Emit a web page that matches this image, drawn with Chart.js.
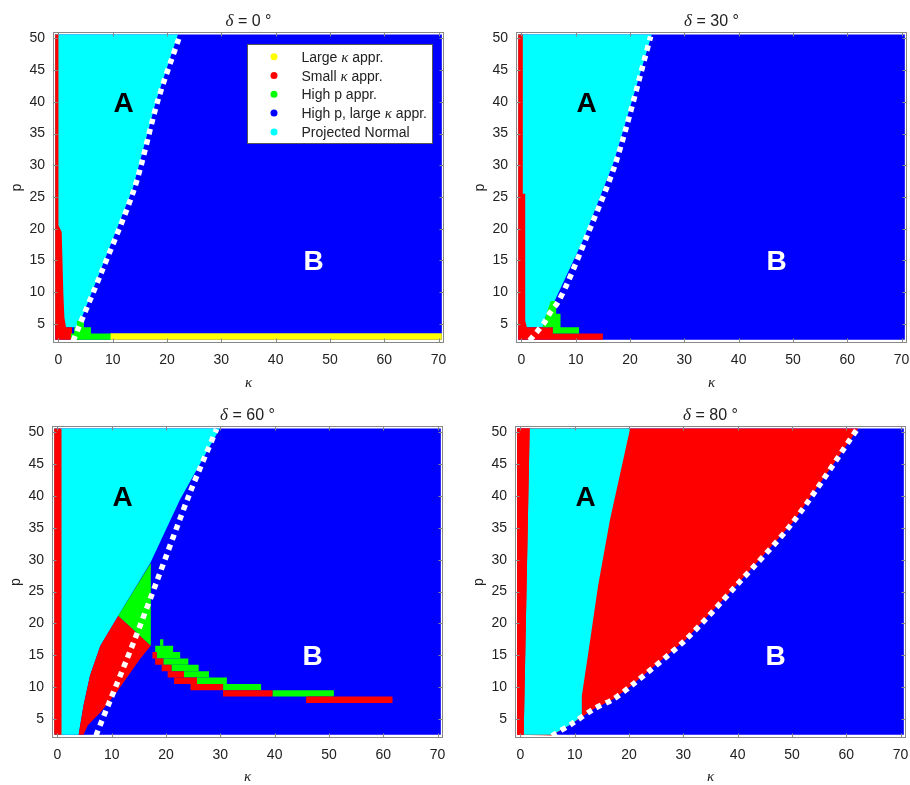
<!DOCTYPE html>
<html>
<head>
<meta charset="utf-8">
<script src="https://cdn.jsdelivr.net/npm/chart.js@4.4.1/dist/chart.umd.min.js"></script>
<style>
  html, body { margin: 0; padding: 0; background: #fff; }
  #wrap { position: relative; width: 910px; height: 785px; overflow: hidden; }
  .panel { position: absolute; }
</style>
</head>
<body>
<div id="wrap">
  <canvas class="panel" id="c0" width="447" height="392" style="left:0;top:0"></canvas>
  <canvas class="panel" id="c1" width="447" height="392" style="left:463px;top:0"></canvas>
  <canvas class="panel" id="c2" width="447" height="392" style="left:-1px;top:394px"></canvas>
  <canvas class="panel" id="c3" width="447" height="392" style="left:462px;top:394px"></canvas>
</div>
<script>
// axes
const kTicks = [0, 10, 20, 30, 40, 50, 60, 70];
const pTicks = [5, 10, 15, 20, 25, 30, 35, 40, 45, 50];
const kRange = [-1, 71];
const pRange = [2, 51];
const deltaTitles = ['δ = 0 °', 'δ = 30 °', 'δ = 60 °', 'δ = 80 °'];

// approximation families
const seriesNames = ['Large κ appr.', 'Small κ appr.', 'High p appr.', 'High p, large κ appr.', 'Projected Normal'];
const seriesColors = ['#ffff00', '#ff0000', '#00ff00', '#0000ff', '#00ffff'];
const YELLOW = 0, RED = 1, GREEN = 2, BLUE = 3, CYAN = 4;

// region letters
const regionTags = ['A', 'B'];
const tagK = [12, 47];
const tagP = [40, 15];

// extent of the (kappa, p) grid
const gridHull = [[-0.6, 2.5], [-0.6, 50.6], [70.6, 50.6], [70.6, 2.5]];

// delta = 0
const cyan0 = [[-0.6, 5.0], [-0.6, 50.6], [22.0, 50.6], [18.0, 40.2], [13.7, 26.4], [7.6, 13.1], [4.3, 6.0], [3.3, 4.5], [1.3, 4.5]];
const red0 = [[-0.6, 2.5], [-0.6, 50.6], [0.0, 50.6], [0.0, 20.5], [0.6, 19.5], [0.9, 10.0], [1.1, 6.0], [1.4, 4.5], [2.5, 4.5], [2.5, 2.5]];
const green0 = [[2.3, 2.5], [2.3, 3.5], [2.9, 3.5], [2.9, 4.5], [3.4, 4.5], [3.4, 5.5], [4.7, 5.5], [4.7, 4.5], [6.0, 4.5], [6.0, 3.5], [9.8, 3.5], [9.8, 2.5]];
const yellow0 = [[9.6, 2.5], [9.6, 3.55], [70.6, 3.55], [70.6, 2.5]];
const bound0 = [[2.7, 2.3], [3.6, 4.2], [7.9, 13.1], [14.0, 26.4], [18.3, 40.2], [22.3, 50.3]];

// delta = 30
const cyan30 = [[-0.6, 4.5], [-0.6, 50.6], [24.0, 50.6], [17.0, 30.5], [11.5, 18.5], [7.4, 11.0], [6.1, 8.6], [4.6, 6.6], [3.9, 4.5]];
const red30 = [[-0.6, 2.5], [-0.6, 50.6], [0.25, 50.6], [0.25, 25.5], [0.7, 25.5], [0.7, 5.5], [1.0, 4.5], [5.8, 4.5], [5.8, 3.5], [15.0, 3.5], [15.0, 2.5]];
const green30 = [[5.4, 8.6], [6.4, 8.6], [6.4, 6.6], [7.2, 6.6], [7.2, 4.5], [10.6, 4.5], [10.6, 3.5], [5.8, 3.5], [5.8, 4.5], [3.9, 4.5], [4.6, 6.6]];
const bound30 = [[1.5, 2.4], [2.9, 3.8], [4.2, 5.2], [5.3, 6.8], [6.7, 8.4], [8.5, 11.5], [11.9, 18.5], [17.4, 30.5], [23.8, 50.3]];

// delta = 60
const cyan60 = [[-0.6, 2.5], [-0.6, 50.6], [29.9, 50.6], [22.6, 39.5], [17.1, 29.5], [11.2, 21.2], [7.9, 16.5], [6.0, 11.8], [4.8, 7.1], [3.9, 2.5]];
const redStrip60 = [[-0.6, 2.5], [-0.6, 50.6], [0.75, 50.6], [0.75, 2.5]];
const redWedge60 = [[3.9, 2.5], [4.8, 7.1], [6.0, 11.8], [7.9, 16.5], [11.2, 21.2], [17.2, 16.5], [15.2, 14.4], [10.9, 9.2], [7.9, 6.0], [5.6, 4.0], [4.8, 2.5]];
const greenWedge60 = [[11.2, 21.2], [17.2, 29.5], [17.2, 16.5]];
const bound60 = [[7.1, 2.4], [9.7, 7.9], [12.8, 14.4], [15.2, 19.6], [18.3, 26.6], [24.4, 40.5], [29.3, 50.5]];
// staircase rows to the right of the wedge
const stairP60 = [17, 16, 15, 14, 13, 12, 11, 10, 9, 8];
const stairGreenFrom60 = [18.9, 18.0, 18.3, 19.5, 21.0, 23.3, 25.7, 30.5, 39.6, null];
const stairGreenTo60 = [19.5, 21.3, 22.6, 24.1, 26.0, 27.9, 31.2, 37.5, 50.9, null];
const stairRedFrom60 = [null, null, 17.5, 18.0, 19.2, 20.3, 21.5, 24.5, 30.5, 45.8];
const stairRedTo60 = [null, null, 18.3, 19.5, 21.0, 23.3, 25.7, 30.5, 39.6, 61.7];

// delta = 80
const redBody80 = [[-0.6, 2.5], [-0.6, 50.6], [62.2, 50.6], [50.1, 35.8], [39.7, 25.9], [30.5, 17.5], [20.4, 10.2], [17.1, 8.1], [13.4, 6.5], [9.4, 4.2], [5.8, 2.4]];
const cyan80 = [[0.6, 2.5], [1.7, 50.6], [20.2, 50.6], [16.5, 36.3], [14.3, 25.9], [12.5, 15.4], [11.3, 8.6], [11.3, 5.4], [9.4, 4.2], [5.9, 2.5]];
const redStrip80 = [[-0.6, 2.5], [-0.6, 50.6], [1.7, 50.6], [0.6, 2.5]];
const bound80 = [[5.8, 2.35], [9.4, 4.2], [13.4, 6.5], [17.1, 8.1], [20.4, 10.2], [30.5, 17.5], [39.7, 25.9], [50.1, 35.8], [62.0, 50.5]];

function rowRect(p, a, b) {
    return [[a, p - 0.5], [a, p + 0.5], [b, p + 0.5], [b, p - 0.5]];
}

const stairs60 = [];
stairP60.forEach((p, i) => {
    if (stairGreenFrom60[i] !== null) stairs60.push([rowRect(p, stairGreenFrom60[i], stairGreenTo60[i]), GREEN]);
    if (stairRedFrom60[i] !== null) stairs60.push([rowRect(p, stairRedFrom60[i], stairRedTo60[i]), RED]);
});

// layers listed bottom to top
const panels = [
    { layers: [[gridHull, BLUE], [cyan0, CYAN], [red0, RED], [green0, GREEN], [yellow0, YELLOW]], curve: bound0, legend: true, plotH: 311 },
    { layers: [[gridHull, BLUE], [cyan30, CYAN], [red30, RED], [green30, GREEN]], curve: bound30, legend: false, plotH: 311 },
    { layers: [[gridHull, BLUE], [cyan60, CYAN], [redStrip60, RED], [redWedge60, RED], [greenWedge60, GREEN]].concat(stairs60), curve: bound60, legend: false, plotH: 312 },
    { layers: [[gridHull, BLUE], [redBody80, RED], [cyan80, CYAN], [redStrip80, RED]], curve: bound80, legend: false, plotH: 312 }
];

const SANS = '"Liberation Sans", Arial, sans-serif';
const INK = '#222';

function drawRich(ctx, text, x, y, size, align) {
    const runs = text.split(/([δκ])/).filter(s => s);
    const fontOf = s => /[δκ]/.test(s) ? `italic ${size + 1}px "Liberation Serif", serif` : `${size}px ${SANS}`;
    let w = 0;
    runs.forEach(s => { ctx.font = fontOf(s); w += ctx.measureText(s).width; });
    let cx = align === 'left' ? x : x - w / 2;
    ctx.textAlign = 'left';
    ctx.textBaseline = 'alphabetic';
    runs.forEach(s => {
        ctx.font = fontOf(s);
        ctx.fillText(s, cx, y);
        cx += ctx.measureText(s).width;
    });
}

function drawLegend(ctx, a) {
    const w = 185, h = 99;
    const left = Math.round(a.right - 12.3 - w), top = Math.round(a.top + 11.6);
    ctx.fillStyle = '#fff';
    ctx.fillRect(left, top, w, h);
    ctx.strokeStyle = '#555';
    ctx.lineWidth = 1;
    ctx.strokeRect(left + 0.5, top + 0.5, w, h);
    seriesNames.forEach((name, i) => {
        const cy = top + 12.7 + i * 18.8;
        ctx.fillStyle = seriesColors[i];
        ctx.beginPath();
        ctx.arc(left + 27, cy, 3.5, 0, Math.PI * 2);
        ctx.fill();
        ctx.fillStyle = INK;
        drawRich(ctx, name, left + 54.5, cy + 5, 14, 'left');
    });
}

// box, inward ticks, letters, title and legend
const framePlugin = {
    id: 'frame',
    afterDraw(chart, args, opts) {
        const { ctx, chartArea: a } = chart;
        const xs = chart.scales.x, ys = chart.scales.y;
        ctx.save();

        ctx.font = `bold 28px ${SANS}`;
        ctx.textAlign = 'center';
        ctx.textBaseline = 'alphabetic';
        regionTags.forEach((t, i) => {
            ctx.fillStyle = i === 0 ? '#000' : '#fff';
            ctx.fillText(t, xs.getPixelForValue(tagK[i]), ys.getPixelForValue(tagP[i]) + 10);
        });

        ctx.strokeStyle = '#888';
        ctx.lineWidth = 1;
        const L = Math.round(a.left) + 0.5, R = Math.round(a.right) - 0.5;
        const T = Math.round(a.top) + 0.5, B = Math.round(a.bottom) - 0.5;
        ctx.strokeRect(L, T, R - L, B - T);
        ctx.beginPath();
        kTicks.forEach(v => {
            const px = Math.round(xs.getPixelForValue(v)) + 0.5;
            ctx.moveTo(px, B); ctx.lineTo(px, B - 4);
            ctx.moveTo(px, T); ctx.lineTo(px, T + 4);
        });
        pTicks.forEach(v => {
            const py = Math.round(ys.getPixelForValue(v)) + 0.5;
            ctx.moveTo(L, py); ctx.lineTo(L + 4, py);
            ctx.moveTo(R, py); ctx.lineTo(R - 4, py);
        });
        ctx.stroke();

        ctx.fillStyle = INK;
        drawRich(ctx, opts.title, (a.left + a.right) / 2, 26, 16, 'center');

        if (opts.legend) drawLegend(ctx, a);
        ctx.restore();
    }
};

function polygonDataset(pts, color, order) {
    return {
        data: pts.map(([k, p]) => ({ x: k, y: p })),
        showLine: true,
        fill: 'shape',
        backgroundColor: color,
        borderColor: 'transparent',
        borderWidth: 0,
        pointRadius: 0,
        order: order
    };
}

function curveDataset(pts) {
    return {
        data: pts.map(([k, p]) => ({ x: k, y: p })),
        showLine: true,
        fill: false,
        borderColor: '#ffffff',
        borderWidth: 5.5,
        borderDash: [5.5, 5],
        borderCapStyle: 'butt',
        tension: 0.3,
        pointRadius: 0,
        order: 0
    };
}

const tickFont = { family: SANS, size: 14 };

panels.forEach((panel, idx) => {
    const n = panel.layers.length;
    const datasets = panel.layers.map(([pts, c], i) => polygonDataset(pts, seriesColors[c], n - i));
    datasets.push(curveDataset(panel.curve));

    new Chart(document.getElementById('c' + idx), {
        type: 'scatter',
        data: { datasets },
        options: {
            responsive: false,
            animation: false,
            layout: { padding: { top: 32, left: 0, right: 3, bottom: 0 } },
            plugins: {
                legend: { display: false },
                tooltip: { enabled: false },
                frame: { title: deltaTitles[idx], legend: panel.legend }
            },
            scales: {
                x: {
                    type: 'linear',
                    min: kRange[0],
                    max: kRange[1],
                    afterBuildTicks: s => { s.ticks = kTicks.map(v => ({ value: v })); },
                    afterFit: s => {
                        s.height = 392 - 32 - panel.plotH;
                        s.paddingLeft = 0;
                        s.paddingRight = 0;
                    },
                    grid: { display: false, drawTicks: false },
                    border: { display: false },
                    ticks: { padding: 9, font: tickFont, color: INK, maxRotation: 0, autoSkip: false },
                    title: {
                        display: true,
                        text: 'κ',
                        color: INK,
                        font: { family: '"Liberation Serif", serif', style: 'italic', size: 15 },
                        padding: { top: 0, bottom: 0 }
                    }
                },
                y: {
                    type: 'linear',
                    min: pRange[0],
                    max: pRange[1],
                    afterBuildTicks: s => { s.ticks = pTicks.map(v => ({ value: v })); },
                    afterFit: s => {
                        s.width = 53;
                        s.paddingTop = 0;
                        s.paddingBottom = 0;
                    },
                    grid: { display: false, drawTicks: false },
                    border: { display: false },
                    ticks: { padding: 8, font: tickFont, color: INK, autoSkip: false },
                    title: {
                        display: true,
                        text: 'p',
                        color: INK,
                        font: { family: SANS, size: 14 },
                        padding: { top: 9, bottom: 0 }
                    }
                }
            }
        },
        plugins: [framePlugin]
    });
});
</script>
</body>
</html>
